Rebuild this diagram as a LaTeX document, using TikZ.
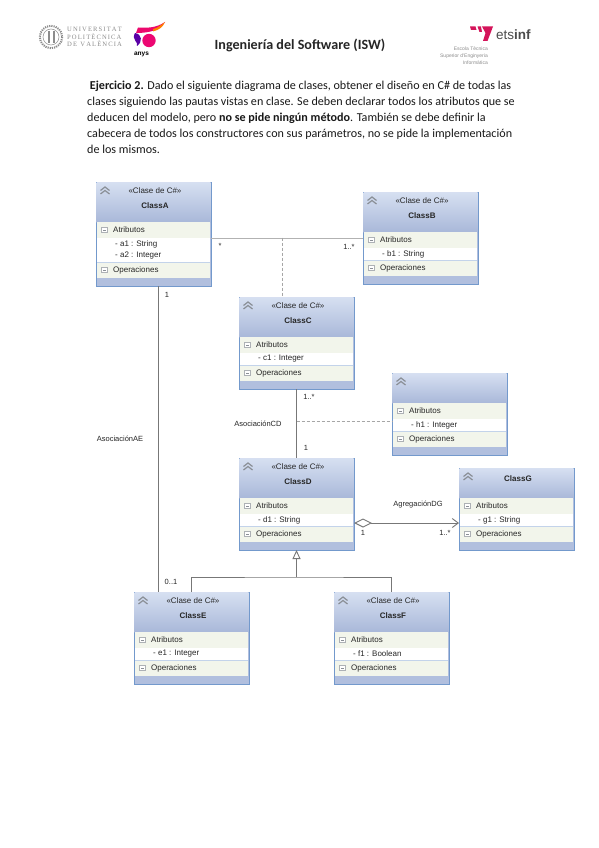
\documentclass[tikz,border=0pt]{standalone}
\usepackage{fontspec}
\setmainfont{Carlito}
\newfontfamily\umlfont{Liberation Sans}
\newfontfamily\sealfont{Liberation Serif}
\usetikzlibrary{arrows.meta}
\definecolor{classEdge}{HTML}{7399CC}
\definecolor{headTop}{HTML}{D6DFF1}
\definecolor{headBottom}{HTML}{A9B8D9}
\definecolor{bandFill}{HTML}{F2F5EB}
\definecolor{footFill}{HTML}{B1BFDE}
\definecolor{rowRule}{HTML}{C3D3EA}
\definecolor{linkGray}{HTML}{777777}
\definecolor{iconGray}{HTML}{8A8F96}
\definecolor{upvGray}{HTML}{8C8C8C}
\definecolor{etsPink}{HTML}{D4145A}

% name / left / top / header height / stereotype / class name / rows / attributes
\newcommand{\classbox}[8]{%
\begin{scope}[shift={(#2,#3)}]
    \pgfmathsetmacro{\yBand}{#4+16}
    \pgfmathsetmacro{\yOps}{\yBand+12*#7}
    \pgfmathsetmacro{\yFoot}{\yOps+16}
    \pgfmathsetmacro{\yEnd}{\yFoot+8}
    \node[classBody, minimum height=\yEnd pt, anchor=north west] (#1) at (0,0) {};
    \path[top color=headTop, bottom color=headBottom] (0.5,0.5) rectangle (114.5,#4);
    \fill[bandFill] (1,#4) rectangle (114,\yBand);
    \fill[white] (1,\yBand) rectangle (114,\yOps);
    \fill[bandFill] (1,\yOps) rectangle (114,\yFoot);
    \draw[rowRule] (1,\yOps) -- (114,\yOps);
    % collapse chevrons
    \draw[chevron] (4.5,8.5) -- (9,5) -- (13.5,8.5);
    \draw[chevron] (4.5,12) -- (9,8.5) -- (13.5,12);
    \def\stereo{#5}
    \ifx\stereo\empty
        \node[className] (#1name) at (59,11) {#6};
    \else
        \node[classText] (#1stereo) at (59,9) {#5};
        \node[className] (#1name) at (59,24) {#6};
    \fi
    \draw[minusBox] (5.5,#4+5.5) rectangle (11.5,#4+10.5);
    \draw[iconGray] (7,#4+8) -- (10,#4+8);
    \node[classText, anchor=west] (#1attr) at (17,#4+8) {Atributos};
    \foreach \row [count=\i] in {#8} {
        \node[classText, anchor=west] (#1row\i) at (19,\yBand+12*\i-6) {\row};
    }
    \draw[minusBox] (5.5,\yOps+5.5) rectangle (11.5,\yOps+10.5);
    \draw[iconGray] (7,\yOps+8) -- (10,\yOps+8);
    \node[classText, anchor=west] (#1ops) at (17,\yOps+8) {Operaciones};
\end{scope}}

\begin{document}
\begin{tikzpicture}[
    x=1pt,
    y=-1pt,
    classBody/.style={draw=classEdge, line width=1pt, fill=footFill, minimum width=115pt, inner sep=0pt, outer sep=0pt},
    classText/.style={font=\umlfont\fontsize{8}{9}\selectfont, text=black!85, inner sep=0pt},
    className/.style={font=\umlfont\bfseries\fontsize{8}{9}\selectfont, text=black!85, inner sep=0pt},
    chevron/.style={draw=iconGray, line width=1.2pt},
    minusBox/.style={draw=iconGray!70, fill=white, line width=0.5pt},
    linkLine/.style={draw=linkGray, line width=0.9pt},
    assocDash/.style={draw=black!35, line width=0.6pt, densely dashed},
    linkLabel/.style={font=\umlfont\fontsize{7.5}{9}\selectfont, text=black!85, inner sep=0pt}
]
\path[use as bounding box, fill=white] (0,0) rectangle (599,848);

% Header logos and title.
\draw[upvGray, line width=2pt, dash pattern=on 1.2pt off 1pt] (51,37) circle (11.2);
\draw[upvGray, line width=0.5pt] (51,37) circle (8);
\fill[upvGray] (47.5,31) rectangle (49.5,43);
\fill[upvGray] (52.5,31) rectangle (54.5,43);
\node[font=\sealfont\fontsize{6.6}{7.4}\selectfont, text=upvGray, anchor=west, align=left, inner sep=0pt] (upvName) at (67,37)
    {U\,N\,I\,V\,E\,R\,S\,I\,T\,A\,T\\P\,O\,L\,I\,T\,È\,C\,N\,I\,C\,A\\D\,E\ \ V\,A\,L\,È\,N\,C\,I\,A};
\fill[magenta!75!red] (149,40.5) circle (6.7);
\fill[violet!70!blue] (135,33) .. controls (142,34) and (143,42) .. (137,46) .. controls (139,42) and (131,40) .. cycle;
\fill[magenta!70!red] (136,33) -- (138,27.5) .. controls (148,28) and (156,28) .. (165,22) .. controls (160,30) and (150,33) .. cycle;
\fill[orange] (153,29) .. controls (158,28) and (161,25) .. (165,22) .. controls (163,27) and (159,30) .. (153,31.5) -- cycle;
\node[font=\umlfont\bfseries\fontsize{6.5}{7}\selectfont, inner sep=0pt] (anysName) at (141.5,54) {anys};
\node[font=\bfseries\fontsize{14.1}{16}\selectfont, text=black!85, inner sep=0pt] (title) at (300,45) {Ingeniería del Software (ISW)};
\fill[etsPink] (470,26.5) -- (475.5,26.5) -- (476.5,30) -- (471,30) -- cycle;
\fill[etsPink] (477.5,26.5) -- (481,26.5) -- (482,32) -- (479.5,32) -- cycle;
\fill[etsPink] (482,26.5) -- (493,26.5) -- (487.5,41) -- (483,41) -- (485.5,33) -- cycle;
\node[font=\umlfont\fontsize{13.5}{14}\selectfont, text=black!70, anchor=west, inner sep=0pt] (etsinfName) at (496,35) {ets\textbf{inf}};
\node[font=\umlfont\fontsize{5}{7}\selectfont, text=black!45, anchor=east, align=right, inner sep=0pt] (etsinfFull) at (488,56)
    {Escola Tècnica\\Superior d'Enginyeria\\Informàtica};

% Statement.
\node[font=\fontsize{12.1}{16}\selectfont, text=black!90, anchor=north west, align=left, inner sep=0pt] (statement) at (87,80.5)
    {\ \textbf{Ejercicio 2.} Dado el siguiente diagrama de clases, obtener el diseño en C\# de todas las\\
    clases siguiendo las pautas vistas en clase. Se deben declarar todos los atributos que se\\
    deducen del modelo, pero \textbf{no se pide ningún método}. También se debe definir la\\
    cabecera de todos los constructores con sus parámetros, no se pide la implementación\\
    de los mismos.};

% Classes, measured from the top left corner of each box.
\classbox{classA}{96}{182}{40}{«Clase de C\#»}{ClassA}{2}{- a1 : String,- a2 : Integer}
\classbox{classB}{363}{192}{40}{«Clase de C\#»}{ClassB}{1}{- b1 : String}
\classbox{classC}{239}{297}{40}{«Clase de C\#»}{ClassC}{1}{- c1 : Integer}
\classbox{classH}{392}{373}{30}{}{}{1}{- h1 : Integer}
\classbox{classD}{239}{458}{40}{«Clase de C\#»}{ClassD}{1}{- d1 : String}
\classbox{classG}{459}{468}{30}{}{ClassG}{1}{- g1 : String}
\classbox{classE}{134}{592}{40}{«Clase de C\#»}{ClassE}{1}{- e1 : Integer}
\classbox{classF}{334}{592}{40}{«Clase de C\#»}{ClassF}{1}{- f1 : Boolean}

\coordinate (abLink) at (282,237.5);
\coordinate (cdLink) at (296.5,421);
\coordinate (aeLink) at (158,592);
\coordinate (dgLink) at (354,523);
\coordinate (genJoint) at (296.5,577);

\draw[linkLine, draw=black!30] (classA.east |- classB.west) -- (classB.west);
\draw[assocDash] (abLink) -- (classC.north -| abLink);
\draw[linkLine] (classC) -- (classD);
\draw[assocDash] (cdLink) -- (cdLink -| classH.west);
\draw[linkLine] (classA.south -| aeLink) -- (aeLink);
\draw[linkLine, {Diamond[open, length=18pt, width=9pt]}-{Straight Barb[length=6pt, width=9pt]}] (dgLink) -- (dgLink -| classG.west);
\draw[linkLine] (classE.north) |- (genJoint) -| (classF.north);
\draw[linkLine, -{Triangle[open, length=9pt, width=8pt]}] (genJoint) -- (classD.south);

% Multiplicities and association names.
\foreach \name/\x/\y/\txt in {
    lblAB/220/246/*,
    lblBA/349/247/1..*,
    lblAE/167/295/1,
    lblCD/309/397/1..*,
    lblDC/306/448/1,
    lblDG/363/533/1,
    lblGD/445/533/1..*,
    lblEA/171/582/0..1,
    nameAE/120/439/AsociaciónAE,
    nameCD/258/424/AsociaciónCD,
    nameDG/418/505/AgregaciónDG
} {
    \node[linkLabel] (\name) at (\x,\y) {\txt};
}
\end{tikzpicture}
\end{document}
